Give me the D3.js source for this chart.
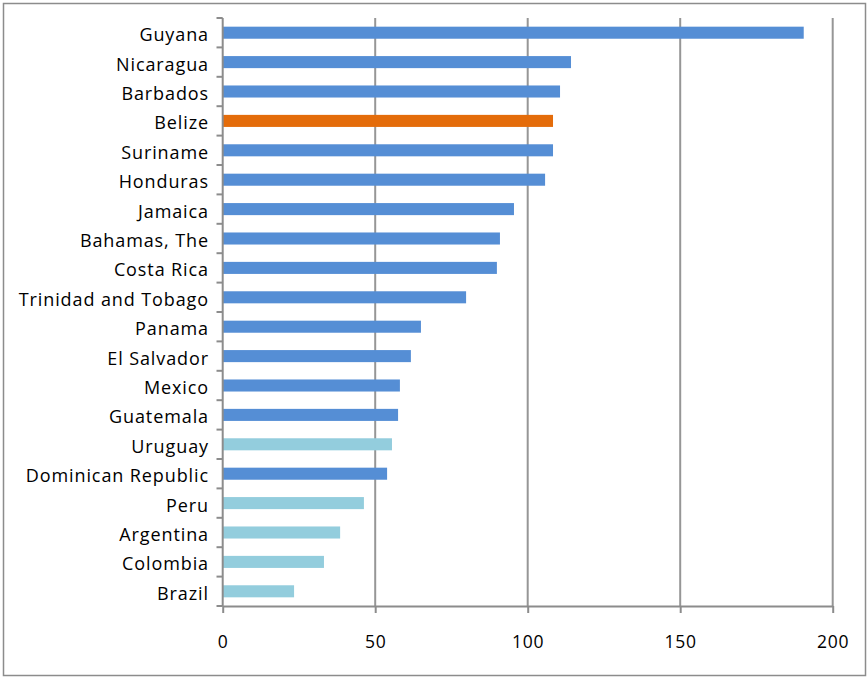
<!DOCTYPE html>
<html><head><meta charset="utf-8">
<script src="https://cdn.jsdelivr.net/npm/d3@7"></script>
<style>body{margin:0;background:#fff}svg text{font-family:"Open Sans",sans-serif;fill:#000}</style>
</head><body><svg id="c" width="868" height="677"></svg>
<script>
const countries = ["Guyana","Nicaragua","Barbados","Belize","Suriname","Honduras","Jamaica","Bahamas, The","Costa Rica","Trinidad and Tobago","Panama","El Salvador","Mexico","Guatemala","Uruguay","Dominican Republic","Peru","Argentina","Colombia","Brazil"];
const values = [190.5,114.2,110.6,108.3,108.3,105.7,95.5,90.9,89.9,79.8,65.0,61.7,58.1,57.5,55.5,53.9,46.3,38.5,33.2,23.4];
const groups = ["c","c","c","b","c","c","c","c","c","c","c","c","c","c","s","c","s","s","s","s"];
const xTicks = [0,50,100,150,200];
const colors = {c:"#558ed5", b:"#e46c0a", s:"#93cddd"};

const svg = d3.select("#c");
svg.append("rect").attr("x",3.5).attr("y",3.5).attr("width",862).attr("height",672)
  .attr("fill","#fff").attr("stroke","#8c8c8c").attr("stroke-width",1.5);

const x = d3.scaleLinear().domain([0,200]).range([222.7,832.7]);
const y = d3.scaleBand().domain(countries).range([18,606]).paddingInner(0.59).paddingOuter(0.295);
const yb = d3.scaleBand().domain(countries).range([18,606]);

// gridlines
svg.append("g").selectAll("line").data(xTicks.slice(1)).join("line")
  .attr("x1",d=>x(d)).attr("x2",d=>x(d)).attr("y1",18).attr("y2",606)
  .attr("stroke","#969696").attr("stroke-width",2);

// bars
svg.append("g").selectAll("rect").data(countries).join("rect")
  .attr("x",x(0)).attr("y",d=>y(d)).attr("height",y.bandwidth())
  .attr("width",(d,i)=>x(values[i])-x(0))
  .attr("fill",(d,i)=>colors[groups[i]]);

// x axis
const xa = svg.append("g").attr("transform","translate(0,606)")
  .call(d3.axisBottom(x).tickValues(xTicks).tickSize(7).tickPadding(23).tickSizeOuter(0));
xa.select(".domain").attr("stroke","#8c8c8c").attr("stroke-width",2);
xa.selectAll(".tick line").attr("stroke","#8c8c8c").attr("stroke-width",2);
xa.selectAll("text").attr("font-size",17.5).attr("font-family","Open Sans").style("letter-spacing","0.8px");

// y axis
const ticksY = countries.map(d=>yb(d)).concat([606]);
const ya = svg.append("g");
ya.append("line").attr("x1",x(0)).attr("x2",x(0)).attr("y1",18).attr("y2",606)
  .attr("stroke","#8c8c8c").attr("stroke-width",2);
ya.selectAll("line.t").data(ticksY).join("line").attr("class","t")
  .attr("x1",216.5).attr("x2",x(0)).attr("y1",d=>d).attr("y2",d=>d)
  .attr("stroke","#8c8c8c").attr("stroke-width",2);
ya.selectAll("text").data(countries).join("text")
  .attr("x",209).attr("y",d=>yb(d)+yb.bandwidth()/2+2).attr("dy","0.36em")
  .attr("text-anchor","end").attr("font-size",18).style("letter-spacing","0.9px")
  .text(d=>d);
</script></body></html>
